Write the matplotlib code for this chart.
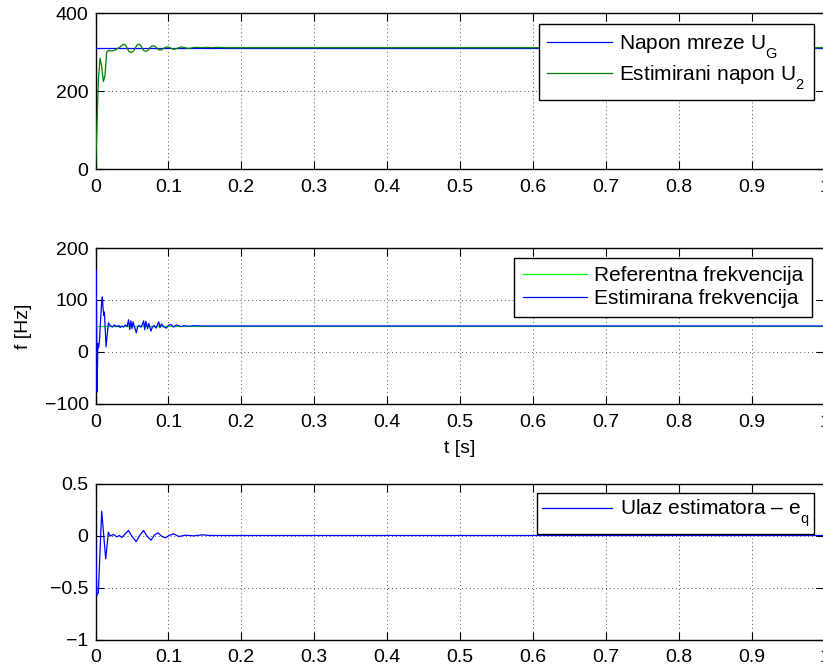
import matplotlib
matplotlib.use("Agg")
import matplotlib.pyplot as plt
from matplotlib.ticker import FuncFormatter

plt.rcParams['font.family'] = ['Liberation Sans', 'DejaVu Sans']
plt.rcParams['mathtext.fontset'] = 'custom'
plt.rcParams['mathtext.rm'] = 'Liberation Sans'
plt.rcParams['mathtext.default'] = 'regular'
plt.rcParams['font.size'] = 14

# indeksi (U_G, e_q) nize kao u MATLAB-u
try:
    import matplotlib._mathtext as mt
    mt.FontConstantsBase.sub1 = 0.9
    mt.FontConstantsBase.sub2 = 0.9
except Exception:
    pass

# --- podaci procitani sa slike ---
# napon mreze (konstanta) i estimirani napon
t_ug = [0, 1.0]
ug = [311, 311]

t_u2 = [0, 0.002, 0.004, 0.0062, 0.0085, 0.0108, 0.013, 0.0154, 0.018, 0.021,
        0.024, 0.027, 0.030, 0.033, 0.0358, 0.0384, 0.041, 0.0435, 0.046, 0.049,
        0.052, 0.0545, 0.0565, 0.059, 0.0615, 0.064, 0.0667, 0.0697, 0.0725, 0.075,
        0.0775, 0.0798, 0.0825, 0.085, 0.0875, 0.09, 0.0925, 0.095, 0.098, 0.101,
        0.104, 0.1065, 0.1097, 0.113, 0.118, 0.123, 0.128, 0.133, 0.138, 0.145,
        0.152, 0.16, 0.168, 0.18, 1.0]
u2 = [0, 110, 230, 284, 262, 224, 240, 300, 304, 303,
      303, 305, 309, 312, 316, 320, 318, 310, 301, 299,
      302, 310, 317, 320, 318, 310, 303, 302, 305, 312,
      315, 316, 313, 308, 305, 305, 308, 311, 313, 312,
      309, 307, 308, 310, 313, 311, 309, 311, 312, 311,
      312, 311, 312, 311, 311]

# frekvencija
t_fref = [0, 1.0]
f_ref = [50, 50]

t_f = [0, 0.0009, 0.0022, 0.0032, 0.0042, 0.0055, 0.007, 0.0085, 0.0094, 0.0103,
       0.0113, 0.0122, 0.0134, 0.0145, 0.016, 0.0177, 0.02, 0.023, 0.026, 0.029,
       0.032, 0.0338, 0.036, 0.0384, 0.041, 0.0435, 0.0453, 0.047, 0.0485, 0.05,
       0.0515, 0.053, 0.0545, 0.0559, 0.058, 0.06, 0.0625, 0.064, 0.066, 0.0675,
       0.069, 0.0715, 0.073, 0.0745, 0.076, 0.078, 0.0805, 0.083, 0.0852, 0.0867,
       0.0885, 0.0905, 0.093, 0.0972, 0.1, 0.1035, 0.1073, 0.111, 0.1166, 0.122,
       0.128, 0.135, 0.145, 1.0]
f_est = [50, 158, -77, 16, 8, 22, 62, 98, 106, 85,
         70, 77, 42, 10, 32, 56, 51, 48, 52, 49,
         51, 47, 50, 48, 52, 49, 62, 43, 60, 45,
         58, 50, 44, 37, 49, 51, 48, 52, 60, 43,
         59, 45, 55, 48, 40, 48, 51, 46, 53, 58,
         47, 54, 49, 46, 51, 53, 48, 52, 49, 50.5,
         49.5, 50.5, 50, 50]

# ulaz estimatora
t_eq = [0, 0.0018, 0.0039, 0.0085, 0.014, 0.0177, 0.02, 0.0246, 0.0292, 0.0329,
        0.0361, 0.0407, 0.0453, 0.0499, 0.0559, 0.0605, 0.066, 0.0706, 0.0761, 0.0807,
        0.0857, 0.0913, 0.0959, 0.1018, 0.1074, 0.1143, 0.1235, 0.135, 0.1465, 0.158, 1.0]
eq = [0, -0.574, -0.55, 0.234, -0.224, 0.032, -0.006, 0.01, -0.013, 0.0,
      -0.02, 0.016, 0.048, -0.006, -0.06, 0.0, 0.048, -0.006, -0.045, 0.003,
      0.026, -0.01, -0.022, 0.003, 0.016, -0.01, 0.003, -0.003, 0.006, 0.0, 0.0]

x_ticks = [0, 0.1, 0.2, 0.3, 0.4, 0.5, 0.6, 0.7, 0.8, 0.9, 1.0]


def fmt(v, pos):
    return ('%g' % v).replace('-', '\u2212')


def style(ax, ylim, yticks):
    ax.set_xlim(0, 1)
    ax.set_ylim(*ylim)
    ax.set_xticks(x_ticks)
    ax.set_yticks(yticks)
    ax.xaxis.set_major_formatter(FuncFormatter(fmt))
    ax.yaxis.set_major_formatter(FuncFormatter(fmt))
    ax.tick_params(direction='in', top=True, right=True, length=6, width=0.8)
    ax.tick_params(axis='x', pad=7)
    ax.tick_params(axis='y', pad=5)
    ax.grid(True, linestyle=(0, (1, 3)), color='0.35', linewidth=0.7)
    for s in ax.spines.values():
        s.set_linewidth(1.0)


fig = plt.figure(figsize=(8.23, 6.70), dpi=100)
W, H = 823.0, 670.0
left = 95.5 / W
width = (824.5 - 95.5) / W
h = 156 / H

ax1 = fig.add_axes([left, 1 - 169 / H, width, h])
ax2 = fig.add_axes([left, 1 - 404 / H, width, h])
ax3 = fig.add_axes([left, 1 - 639.5 / H, width, h])

leg_kw = dict(loc='upper right', fancybox=False, edgecolor='black', framealpha=1,
              borderaxespad=0, handletextpad=0.35, fontsize=15)

ax1.plot(t_ug, ug, color='#0000ff', lw=0.9, zorder=2.6, label=r'Napon mreze U$_G$')
ax1.plot(t_u2, u2, color='#008000', lw=0.9, zorder=2.7, label=r'Estimirani napon U$_2$')
style(ax1, (0, 400), [0, 200, 400])
lg = ax1.legend(bbox_to_anchor=(0.9856, 0.929), labelspacing=0.1, borderpad=0.42,
                handlelength=3.1, **leg_kw)
lg.get_frame().set_linewidth(1.0)

ax2.plot(t_fref, f_ref, color='#00ff00', lw=0.9, zorder=2.6, label='Referentna frekvencija')
ax2.plot(t_f, f_est, color='#0000ff', lw=0.9, zorder=2.7, label='Estimirana frekvencija')
style(ax2, (-100, 200), [-100, 0, 100, 200])
ax2.set_ylabel('f [Hz]')
ax2.yaxis.set_label_coords(-0.087, 0.5)
ax2.set_xlabel('t [s]', labelpad=7)
lg = ax2.legend(bbox_to_anchor=(0.9835, 0.938), labelspacing=0.18, borderpad=0.42,
                handlelength=3.1, **leg_kw)
lg.get_frame().set_linewidth(1.0)

ax3.plot(t_eq, eq, color='#0000ff', lw=0.9, zorder=2.6, label='Ulaz estimatora \u2013 e$_q$')
style(ax3, (-1, 0.5), [-1, -0.5, 0, 0.5])
lg = ax3.legend(bbox_to_anchor=(0.985, 0.938), borderpad=0.22, handlelength=3.4, **leg_kw)
lg.get_frame().set_linewidth(1.0)

fig.savefig('out.png', dpi=100)
